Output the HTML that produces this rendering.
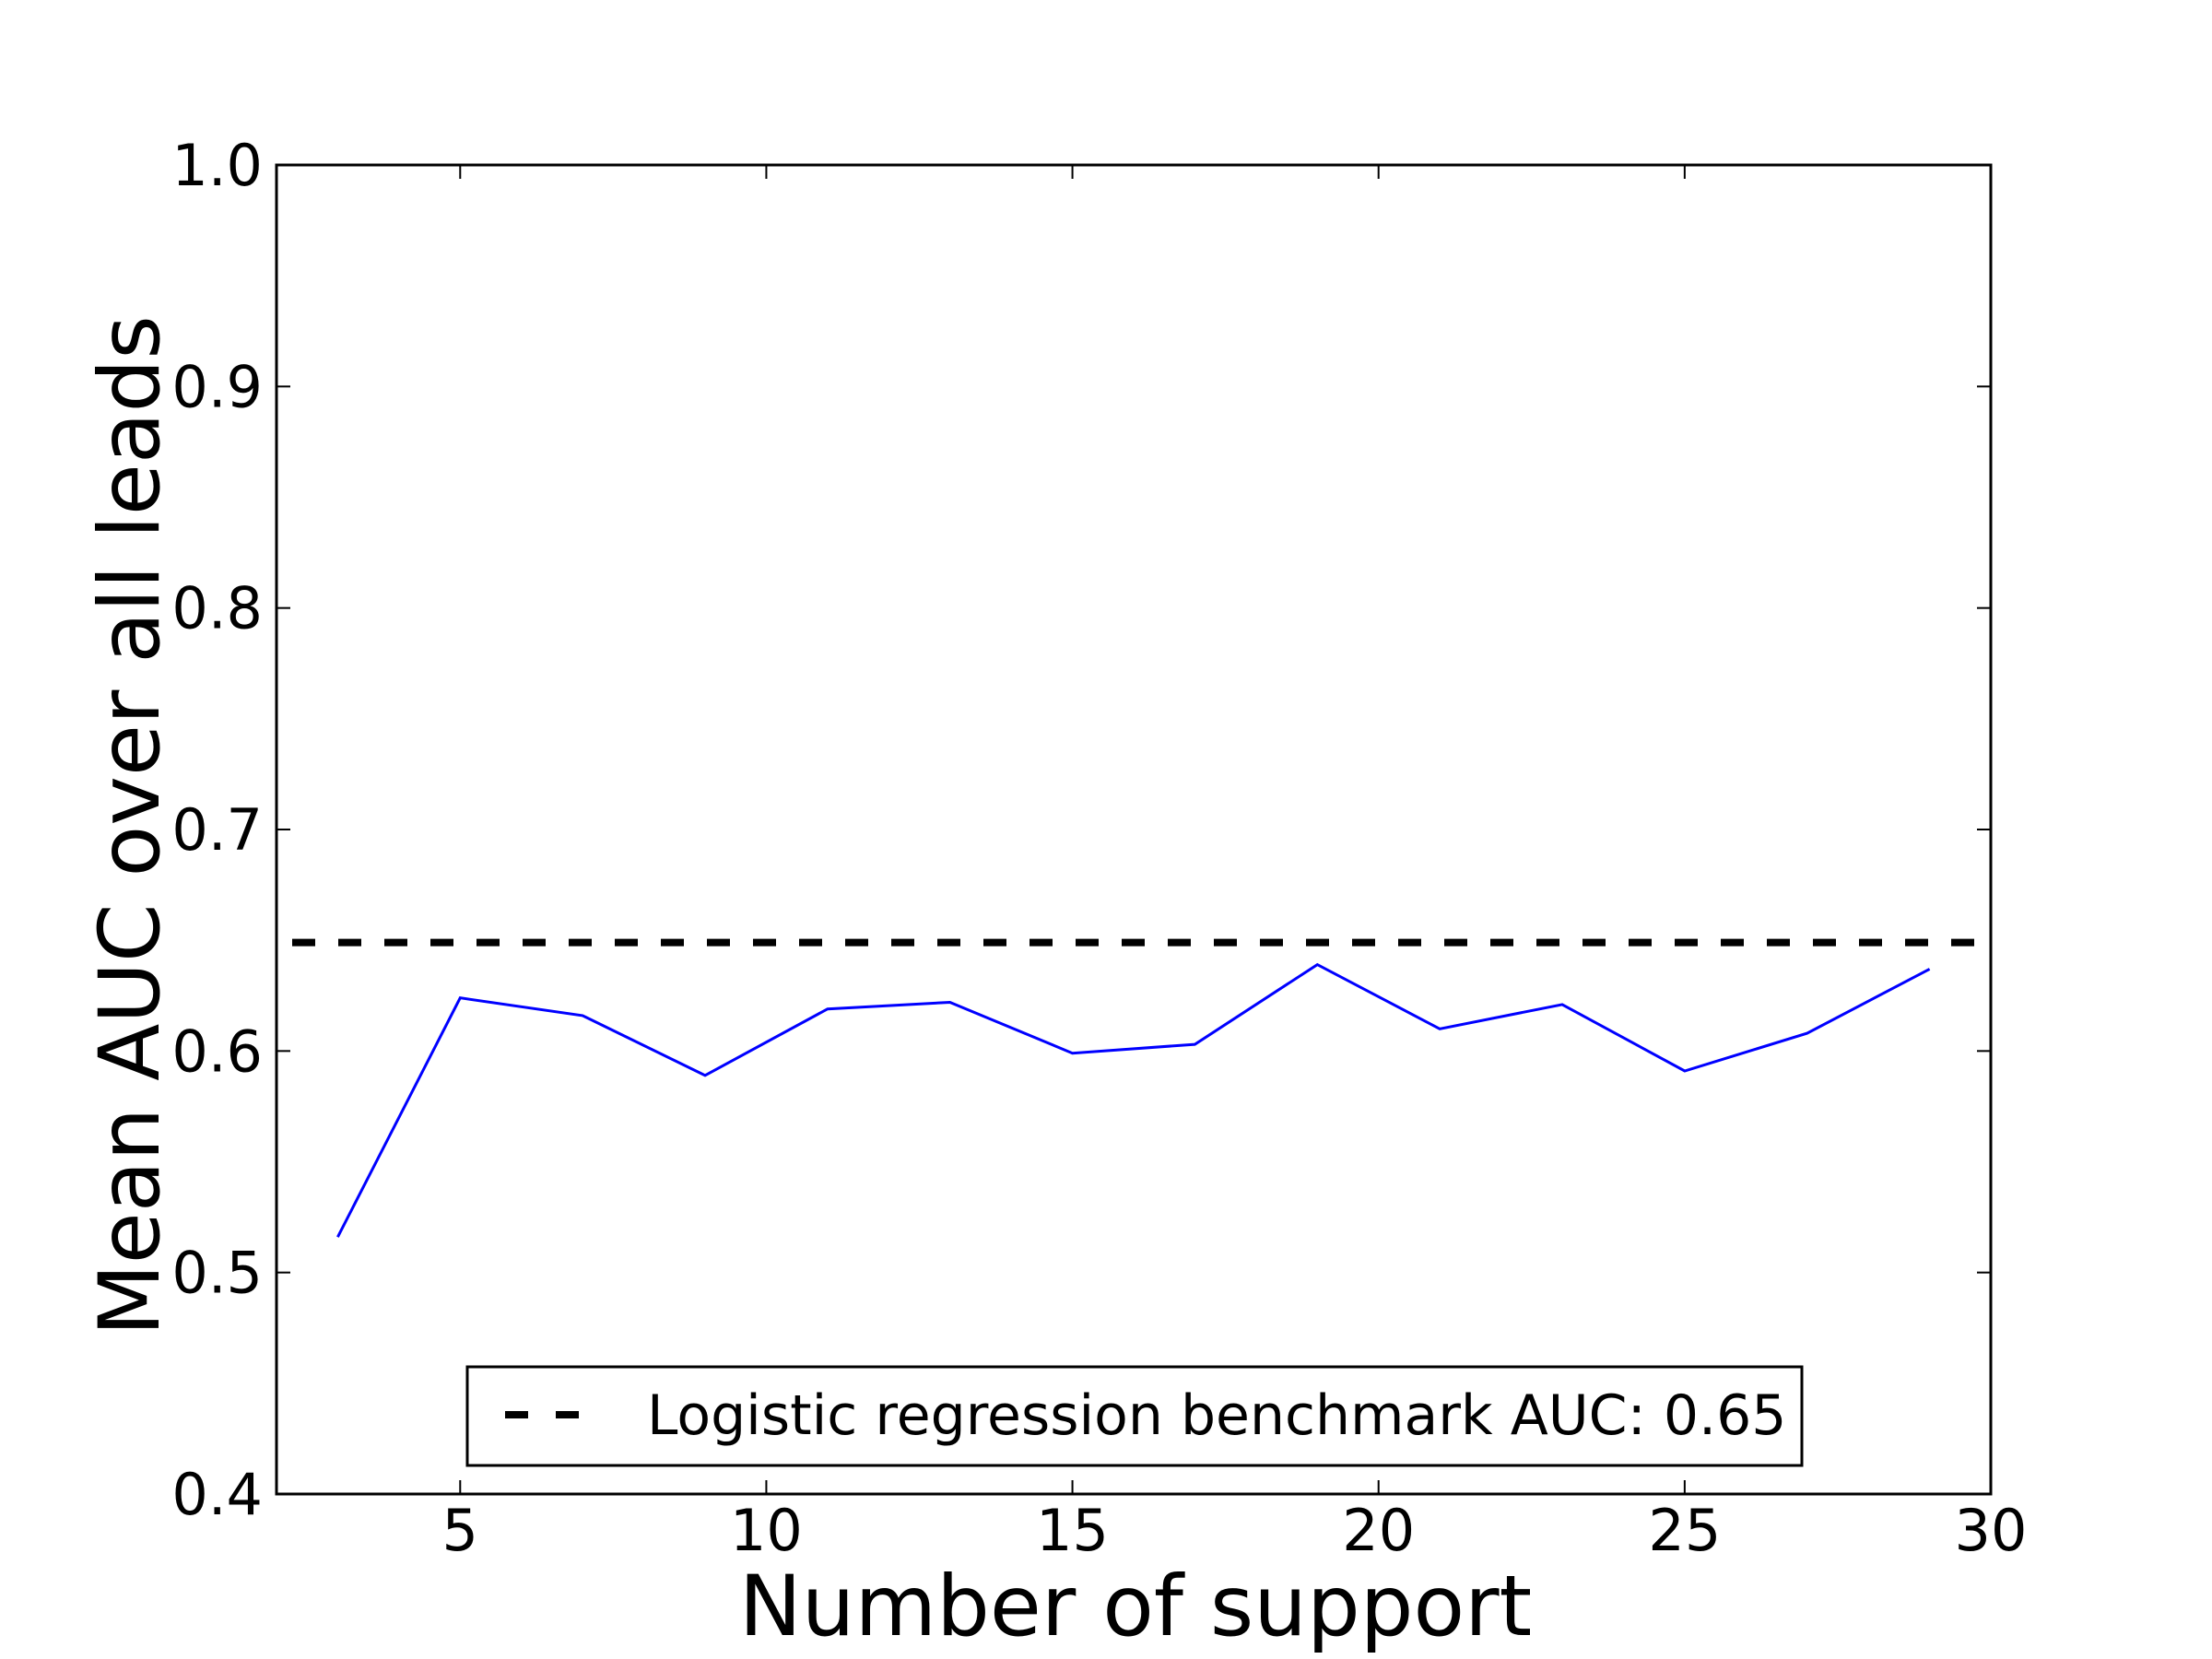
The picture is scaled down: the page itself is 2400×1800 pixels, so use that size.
<!DOCTYPE html>
<html><head><meta charset="utf-8"><style>
html,body{margin:0;padding:0;background:#fff;}
svg{display:block;font-family:"DejaVu Sans","Liberation Sans",sans-serif;}
</style></head><body>
<svg id="chart" width="2400" height="1800" viewBox="0 0 2400 1800" xmlns="http://www.w3.org/2000/svg">
<rect width="2400" height="1800" fill="#fff"/>
<g id="plot"></g>
</svg>
<script>
const xValues = [3,5,7,9,11,13,15,17,19,21,23,25,27,29];
const aucValues = [0.516,0.624,0.616,0.589,0.619,0.622,0.599,0.603,0.639,0.610,0.621,0.591,0.608,0.637];
const benchmark = [0.649];
const xTicks = [5,10,15,20,25,30];
const yTicks = [0.4,0.5,0.6,0.7,0.8,0.9,1.0];
const yTickLabels = ["0.4","0.5","0.6","0.7","0.8","0.9","1.0"];
const xDomain = [2,30];
const yDomain = [0.4,1.0];

const L=300,R=2160,T=179,B=1621;
const sx=v=>L+(v-xDomain[0])/(xDomain[1]-xDomain[0])*(R-L);
const sy=v=>B-(v-yDomain[0])/(yDomain[1]-yDomain[0])*(B-T);
const NS="http://www.w3.org/2000/svg";
const g=document.getElementById('plot');
function mk(tag,attrs,parent){const e=document.createElementNS(NS,tag);for(const k in attrs)e.setAttribute(k,attrs[k]);(parent||g).appendChild(e);return e;}

// benchmark dashed line
const bl=mk('line',{x1:sx(xDomain[0]),x2:sx(xDomain[1]),y1:sy(benchmark[0]),y2:sy(benchmark[0]),stroke:'#000','stroke-width':8,'stroke-dasharray':'25 25','stroke-dashoffset':'33'});



// series
const pts=xValues.map((x,i)=>sx(x).toFixed(1)+','+sy(aucValues[i]).toFixed(1)).join(' ');
const pl=mk('polyline',{points:pts,fill:'none',stroke:'#0000ff','stroke-width':3,'stroke-linejoin':'miter'});



// ticks and labels
xTicks.forEach(t=>{
  const x=sx(t);
  mk('line',{x1:x,x2:x,y1:B,y2:B-15,stroke:'#000','stroke-width':2});
  mk('line',{x1:x,x2:x,y1:T,y2:T+15,stroke:'#000','stroke-width':2});
  const tx=mk('text',{x:x,y:1682,'text-anchor':'middle','font-size':62,fill:'#000'});
  tx.textContent=String(t);
  
  
});
yTicks.forEach((t,i)=>{
  const y=sy(t);
  mk('line',{x1:L,x2:L+15,y1:y,y2:y,stroke:'#000','stroke-width':2});
  mk('line',{x1:R,x2:R-15,y1:y,y2:y,stroke:'#000','stroke-width':2});
  const tx=mk('text',{x:285,y:y+22,'text-anchor':'end','font-size':62,fill:'#000'});
  tx.textContent=yTickLabels[i];
  
  
});

// frame
const fr=mk('rect',{x:L,y:T,width:R-L,height:B-T,fill:'none',stroke:'#000','stroke-width':3});



// legend
const lg=mk('g',{});


mk('rect',{x:507,y:1483,width:1448,height:107,fill:'#fff',stroke:'#000','stroke-width':3},lg);
mk('line',{x1:548,x2:628,y1:1535,y2:1535,stroke:'#000','stroke-width':8,'stroke-dasharray':'25 30'},lg);
const lt=mk('text',{x:702,y:1556,'font-size':60,fill:'#000'},lg);
lt.textContent='Logistic regression benchmark AUC: 0.65';



// axis titles
const xt=mk('text',{x:1232,y:1774,'text-anchor':'middle','font-size':91,fill:'#000'});
xt.textContent='Number of support';


const yt=mk('text',{x:0,y:0,'text-anchor':'middle','font-size':91,fill:'#000',transform:'translate(172,896) rotate(-90)'});
yt.textContent='Mean AUC over all leads';


</script>
</body></html>
